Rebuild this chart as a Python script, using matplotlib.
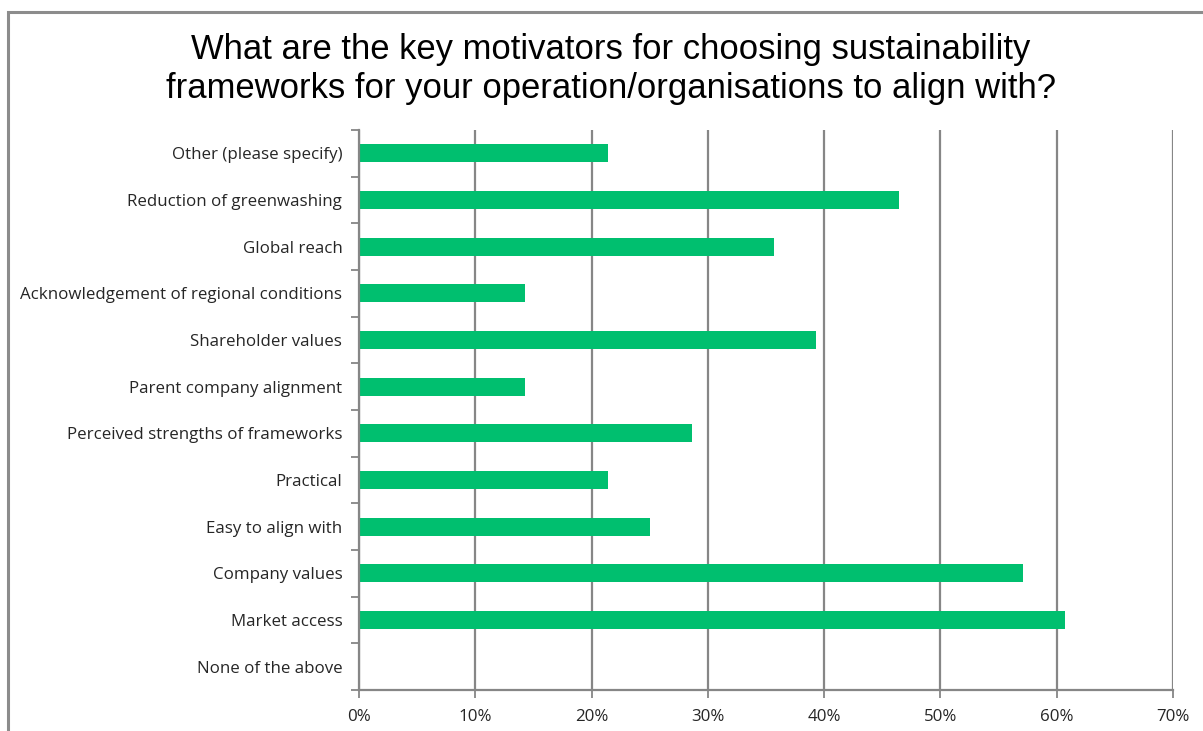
import numpy as np
import matplotlib.pyplot as plt
from matplotlib.patches import Rectangle
from matplotlib.ticker import PercentFormatter

# categories, bottom to top
labels = ['None of the above', 'Market access', 'Company values', 'Easy to align with',
          'Practical', 'Perceived strengths of frameworks', 'Parent company alignment',
          'Shareholder values', 'Acknowledgement of regional conditions', 'Global reach',
          'Reduction of greenwashing', 'Other (please specify)']
values = [0.0, 60.7, 57.1, 25.0, 21.4, 28.6, 14.3, 39.3, 14.3, 35.7, 46.4, 21.4]

title = ('What are the key motivators for choosing sustainability\n'
         'frameworks for your operation/organisations to align with?')

fig = plt.figure(figsize=(12.03, 7.31), dpi=100)
fig.patch.set_facecolor('white')

# grey frame round the chart area (runs off right/bottom edge)
fig.patches.append(Rectangle((8 / 1203, -0.05), 1.1, 1 - 12 / 731 + 0.05,
                             transform=fig.transFigure, fill=False,
                             edgecolor='#8c8c8c', linewidth=2.2))

ax = fig.add_axes([359 / 1203, 41 / 731, (1173 - 359) / 1203, (690 - 130) / 731])

y = np.arange(len(labels))
ax.barh(y, values, height=0.39, color='#00bf6f', zorder=3)

ax.set_xlim(0, 70)
ax.set_ylim(-0.5, len(labels) - 0.5)
ax.set_xticks(np.arange(0, 71, 10))
ax.xaxis.set_major_formatter(PercentFormatter(decimals=0))
ax.grid(axis='x', color='#868686', linewidth=1.6, zorder=0)

# y ticks at category boundaries, labels centred
ax.set_yticks(np.arange(-0.5, len(labels), 1))
ax.set_yticklabels([])
ax.set_yticks(y, minor=True)
ax.set_yticklabels(labels, minor=True)
ax.tick_params(axis='y', which='major', length=6, width=1.3, color='#868686', direction='out')
ax.tick_params(axis='y', which='minor', length=0, pad=12)
ax.tick_params(axis='x', length=6, width=1.3, color='#868686', pad=8)

for lab in ax.get_yticklabels(minor=True) + ax.get_xticklabels():
    lab.set_fontfamily('Open Sans')
    lab.set_fontsize(12.2)
    lab.set_color('#262626')

for side in ['top', 'right']:
    ax.spines[side].set_visible(False)
for side in ['left', 'bottom']:
    ax.spines[side].set_color('#868686')
    ax.spines[side].set_linewidth(1.6)
    ax.spines[side].set_zorder(4)

fig.text(611 / 1203, 1 - 69 / 731, title, ha='center', va='center',
         fontsize=24.9, family='Liberation Sans', linespacing=1.2, color='black')

fig.savefig('out.png', dpi=100)
